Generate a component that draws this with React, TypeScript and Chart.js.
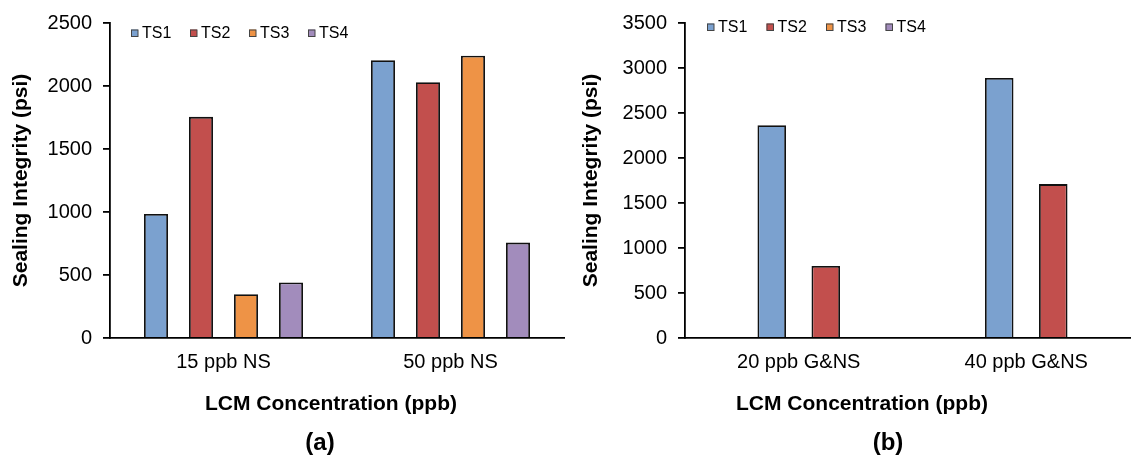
import React, { useEffect, useRef } from "react";
import { Chart, registerables } from "chart.js";

Chart.register(...registerables);

const FONT = '"Liberation Sans", Arial, Helvetica, sans-serif';

// ---------- data ----------
const seriesNames = ["TS1", "TS2", "TS3", "TS4"];
const seriesColors = ["#7BA1CF", "#C24F4D", "#EE9346", "#A28CBC"];

const categoriesA = ["15 ppb NS", "50 ppb NS"];
const ts1A = [985, 2205];
const ts2A = [1755, 2030];
const ts3A = [347, 2240];
const ts4A = [440, 757];
const yTicksA = [0, 500, 1000, 1500, 2000, 2500];

const categoriesB = ["20 ppb G&NS", "40 ppb G&NS"];
const ts1B = [2365, 2890];
const ts2B = [800, 1710];
const ts3B = [null, null];
const ts4B = [null, null];
const yTicksB = [0, 500, 1000, 1500, 2000, 2500, 3000, 3500];

const yTitle = "Sealing Integrity (psi)";
const xTitle = "LCM Concentration (ppb)";

// ---------- plugins ----------
const insideLegend = {
  id: "insideLegend",
  afterDraw(chart: any, _args: any, opts: any) {
    const ctx = chart.ctx;
    ctx.save();
    ctx.font = `${opts.size}px ${FONT}`;
    ctx.textBaseline = "middle";
    ctx.textAlign = "left";
    chart.data.datasets.forEach((ds: any, i: number) => {
      const bx = opts.x + i * opts.spacing;
      const by = opts.y - 3.5;
      ctx.fillStyle = ds.backgroundColor;
      ctx.fillRect(bx, by, 7, 7);
      ctx.strokeStyle = "#444";
      ctx.lineWidth = 1;
      ctx.strokeRect(bx + 0.5, by + 0.5, 6.5, 6.5);
      ctx.fillStyle = "#000";
      ctx.fillText(ds.label, bx + 11, opts.y + 0.5);
    });
    ctx.restore();
  },
};

const captions = {
  id: "captions",
  afterDraw(chart: any, _args: any, opts: any) {
    const ctx = chart.ctx;
    ctx.save();
    ctx.textAlign = "center";
    ctx.textBaseline = "middle";
    ctx.fillStyle = "#000";
    (opts.items || []).forEach((it: any) => {
      ctx.font = `bold ${it.size}px ${FONT}`;
      ctx.fillText(it.text, it.x, it.y);
    });
    ctx.restore();
  },
};

function makeConfig(p: any): any {
  const datasets = p.series.map((data: (number | null)[], i: number) => ({
    label: seriesNames[i],
    data,
    backgroundColor: seriesColors[i],
    borderColor: "#111",
    borderWidth: 1.8,
    categoryPercentage: p.catPct,
    barPercentage: p.barPct,
    grouped: data.some((v) => v !== null),
  }));
  return {
    type: "bar",
    data: { labels: p.categories, datasets },
    plugins: [insideLegend, captions],
    options: {
      responsive: false,
      animation: false,
      devicePixelRatio: 1,
      layout: { padding: { top: p.padTop, right: p.padRight, left: 0, bottom: 0 } },
      plugins: {
        legend: { display: false },
        tooltip: { enabled: false },
        title: { display: false },
        insideLegend: { x: p.legendX, y: p.legendY, spacing: p.legendSpacing, size: 16 },
        captions: { items: p.captionItems },
      },
      scales: {
        x: {
          type: "category",
          afterFit: (s: any) => {
            s.height = p.xAxisHeight;
          },
          ticks: { font: { family: FONT, size: 20 }, color: "#000", padding: 12, maxRotation: 0, autoSkip: false },
          grid: { display: false, drawTicks: false },
          border: { display: true, color: "#000", width: 1.8 },
        },
        y: {
          min: 0,
          max: p.yTicks[p.yTicks.length - 1],
          afterBuildTicks: (s: any) => {
            s.ticks = p.yTicks.map((v: number) => ({ value: v }));
          },
          afterFit: (s: any) => {
            s.width = p.yAxisWidth;
          },
          ticks: {
            font: { family: FONT, size: 20 },
            color: "#000",
            padding: 11,
            callback: (v: any) => String(v),
          },
          grid: { drawOnChartArea: false, drawTicks: true, tickLength: 7, color: "#000", lineWidth: 1.8 },
          border: { display: true, color: "#000", width: 1.8 },
          title: {
            display: true,
            text: yTitle,
            color: "#000",
            font: { family: FONT, size: 21, weight: "bold" },
            padding: { top: p.yTitlePad, bottom: 0 },
          },
        },
      },
    },
  };
}

export default function App() {
  const refA = useRef<HTMLCanvasElement>(null);
  const refB = useRef<HTMLCanvasElement>(null);

  useEffect(() => {
    Chart.defaults.font.family = FONT;
    const a = new Chart(
      refA.current as HTMLCanvasElement,
      makeConfig({
        categories: categoriesA,
        series: [ts1A, ts2A, ts3A, ts4A],
        yTicks: yTicksA,
        catPct: 0.793,
        barPct: 0.533,
        padTop: 18,
        padRight: 2,
        yAxisWidth: 110,
        xAxisHeight: 121,
        yTitlePad: 9,
        legendX: 131,
        legendY: 33,
        legendSpacing: 59,
        captionItems: [
          { text: xTitle, x: 331, y: 404, size: 21 },
          { text: "(a)", x: 320, y: 443, size: 24 },
        ],
      })
    );
    const b = new Chart(
      refB.current as HTMLCanvasElement,
      makeConfig({
        categories: categoriesB,
        series: [ts1B, ts2B, ts3B, ts4B],
        yTicks: yTicksB,
        catPct: 0.475,
        barPct: 0.528,
        padTop: 17,
        padRight: 6,
        yAxisWidth: 119,
        xAxisHeight: 121,
        yTitlePad: 13,
        legendX: 141,
        legendY: 27,
        legendSpacing: 59.5,
        captionItems: [
          { text: xTitle, x: 296, y: 404, size: 21 },
          { text: "(b)", x: 322, y: 443, size: 24 },
        ],
      })
    );
    return () => {
      a.destroy();
      b.destroy();
    };
  }, []);

  return (
    <div
      style={{
        position: "absolute",
        left: 0,
        top: 0,
        width: 1131,
        height: 459,
        overflow: "hidden",
        background: "#fff",
      }}
    >
      <div style={{ position: "absolute", left: 0, top: 0, width: 566, height: 459 }}>
        <canvas ref={refA} width={566} height={459} style={{ display: "block", width: 566, height: 459 }} />
      </div>
      <div style={{ position: "absolute", left: 566, top: 0, width: 565, height: 459, overflow: "hidden" }}>
        <canvas ref={refB} width={580} height={459} style={{ display: "block", width: 580, height: 459 }} />
      </div>
    </div>
  );
}
